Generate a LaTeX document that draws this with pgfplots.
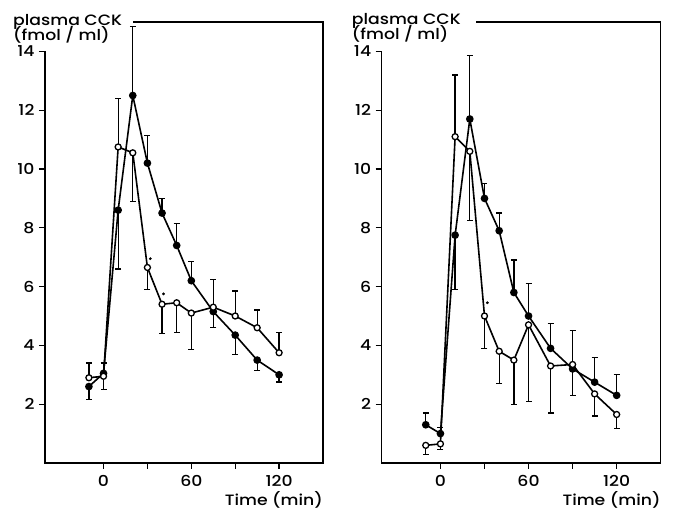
\documentclass[border=0pt]{standalone}
\usepackage{fontspec}
\setmainfont{Poppins}[UprightFont=* Medium, FakeStretch=1.15]
\usepackage{pgfplots}
\pgfplotsset{compat=1.18}

% columns: time, mean, error up, error down
\pgfplotstableread{
t y ep em
-10 2.6 0 0.45
0 3.05 0.35 0
10 8.6 0 2.0
20 12.5 2.35 0
30 10.2 0.95 0
40 8.5 0.5 0
50 7.4 0.75 0
60 6.2 0.65 0
75 5.15 0 0.55
90 4.35 0 0.65
105 3.5 0 0.35
120 3.0 0 0.25
}\leftfilled
\pgfplotstableread{
t y ep em
-10 2.9 0.5 0
0 2.95 0 0.45
10 10.75 1.65 0
20 10.55 0 1.65
30 6.65 0 0.75
40 5.4 0 1.0
50 5.45 0 1.0
60 5.1 0 1.25
75 5.3 0.95 0
90 5.0 0.85 0
105 4.6 0.6 0
120 3.75 0.7 0
}\leftopen
\pgfplotstableread{
t y ep em
-10 1.3 0.4 0
0 1.0 0.2 0
10 7.75 0 1.85
20 11.7 2.15 0
30 9.0 0.5 0
40 7.9 0.6 0
50 5.8 1.1 0
60 5.0 1.1 0
75 3.9 0.85 0
90 3.2 0 0.9
105 2.75 0.85 0
120 2.3 0.7 0
}\rightfilled
\pgfplotstableread{
t y ep em
-10 0.6 0 0.3
0 0.65 0 0.2
10 11.1 2.1 0
20 10.6 0 2.35
30 5.0 0 1.1
40 3.8 0 1.1
50 3.5 0 1.5
60 4.7 0 2.6
75 3.3 0 1.6
90 3.35 1.15 0
105 2.35 0 0.75
120 1.65 0 0.48
}\rightopen

\pgfplotsset{
  cckpanel/.style={
    scale only axis,
    width=278pt, height=441pt,
    xmin=-40, xmax=150, ymin=0, ymax=15,
    axis line style={draw=none},
    xtick={0,30,60,90,120},
    xticklabels={0,,60,,120},
    ytick={2,4,...,14},
    xtick pos=bottom, ytick pos=left,
    tick align=outside,
    major tick length=6pt,
    tick style={line width=1.3pt, black},
    tick label style={font=\fontsize{15}{17}\selectfont},
    /pgf/number format/assume math mode=true,
    xticklabel style={yshift=-3pt},
    yticklabel style={xshift=-1pt},
    clip=false,
  },
  errstyle/.style={error bars/.cd, y dir=both, y explicit,
    error mark=-,
    error bar style={line width=1.3pt},
    error mark options={rotate=90, mark size=3pt, line width=1.3pt}},
  filledser/.style={black, line width=1.6pt, mark=*, mark size=3pt,
    mark options={fill=black}, errstyle},
  openser/.style={black, line width=1.6pt, mark=*, mark size=3pt,
    mark options={fill=white, line width=1.3pt}, errstyle},
}
\tikzset{cklabel/.style={anchor=base west, inner sep=0pt, font=\fontsize{15}{17}\selectfont}}

\begin{document}
\begin{tikzpicture}
\useasboundingbox (-45pt,-50pt) rectangle (629pt,463pt);

\begin{axis}[cckpanel, at={(0pt,0pt)}, anchor=south west]
  \draw[line width=1.3pt] (axis cs:-40,14) -- (rel axis cs:0,0) -- (rel axis cs:1,0)
    -- (rel axis cs:1,1) -- (rel axis cs:0.317,1);
  \addplot[filledser] table[x=t, y=y, y error plus=ep, y error minus=em] {\leftfilled};
  \addplot[openser] table[x=t, y=y, y error plus=ep, y error minus=em] {\leftopen};
  \addplot[only marks, mark=*, mark size=1.2pt, black] coordinates {(32,6.95) (41,5.75)};
  \node[cklabel] at ([xshift=-32pt, yshift=-4pt]rel axis cs:0,1) {plasma CCK};
  \node[cklabel] at ([xshift=-32pt, yshift=-19pt]rel axis cs:0,1) {(fmol / ml)};
  \node[anchor=base east, inner sep=0pt, font=\fontsize{15}{17}\selectfont]
    at ([yshift=-43pt]rel axis cs:1,0) {Time (min)};
\end{axis}

\begin{axis}[cckpanel, at={(336.7pt,0pt)}, anchor=south west, width=279pt]
  \draw[line width=1.3pt] (axis cs:-40,14) -- (rel axis cs:0,0) -- (rel axis cs:1,0)
    -- (rel axis cs:1,1) -- (rel axis cs:0.337,1);
  \addplot[filledser] table[x=t, y=y, y error plus=ep, y error minus=em] {\rightfilled};
  \addplot[openser] table[x=t, y=y, y error plus=ep, y error minus=em] {\rightopen};
  \addplot[only marks, mark=*, mark size=1.2pt, black] coordinates {(32,5.45)};
  \node[cklabel] at ([xshift=-30pt, yshift=-3pt]rel axis cs:0,1) {plasma CCK};
  \node[cklabel] at ([xshift=-30pt, yshift=-18pt]rel axis cs:0,1) {(fmol / ml)};
  \node[anchor=base east, inner sep=0pt, font=\fontsize{15}{17}\selectfont]
    at ([yshift=-43pt]rel axis cs:1,0) {Time (min)};
\end{axis}
\end{tikzpicture}
\end{document}
